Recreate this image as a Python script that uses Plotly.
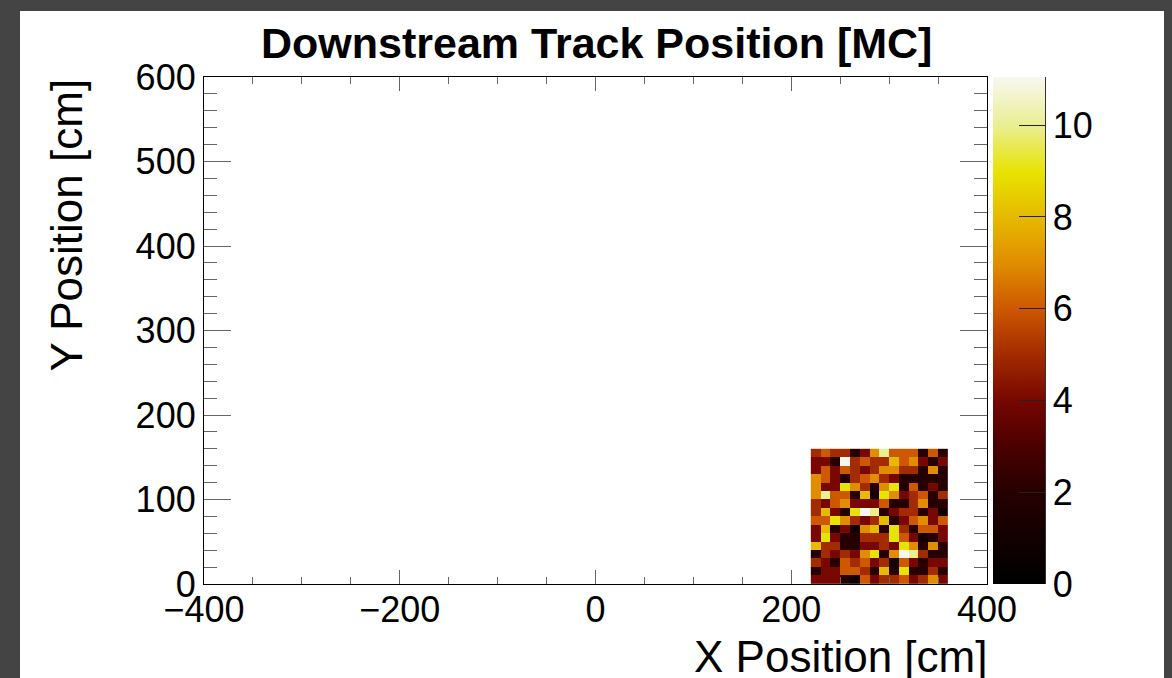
import plotly.graph_objects as go

# ---------------- data ----------------
x_edges = [220, 230, 240, 250, 260, 270, 280, 290, 300, 310, 320, 330, 340, 350, 360]
y_edges = [0, 10, 20, 30, 40, 50, 60, 70, 80, 90, 100, 110, 120, 130, 140, 150, 160]

# bin contents, listed from the TOP row (y 150-160) down to the bottom row (y 0-10)
counts_top_down = [
    [5, 6, 5, 5, 2, 4, 7, 10, 6, 6, 6, 2, 6, 2],
    [4, 4, 2, 11, 5, 6, 5, 5, 8, 6, 7, 4, 2, 4],
    [4, 6, 4, 6, 5, 4, 5, 7, 7, 5, 5, 2, 7, 2],
    [7, 6, 4, 2, 5, 6, 7, 5, 4, 2, 2, 2, 2, 2],
    [7, 4, 4, 9, 7, 5, 2, 7, 9, 2, 6, 2, 4, 2],
    [7, 10, 6, 6, 2, 8, 1, 9, 7, 4, 5, 6, 2, 5],
    [5, 4, 6, 7, 4, 4, 4, 6, 2, 2, 5, 7, 2, 2],
    [5, 8, 4, 2, 9, 11, 10, 2, 4, 5, 5, 2, 4, 1],
    [6, 6, 9, 7, 5, 4, 5, 8, 2, 4, 6, 7, 4, 6],
    [4, 8, 2, 4, 1, 7, 8, 2, 9, 5, 2, 6, 6, 4],
    [4, 9, 4, 2, 2, 5, 5, 5, 9, 6, 4, 1, 2, 4],
    [8, 5, 5, 2, 2, 4, 4, 5, 4, 9, 7, 2, 7, 2],
    [2, 5, 4, 5, 4, 7, 9, 2, 7, 11, 10, 5, 2, 2],
    [5, 4, 2, 6, 5, 6, 4, 5, 1, 6, 4, 2, 4, 4],
    [2, 4, 4, 6, 6, 5, 2, 8, 2, 9, 2, 2, 5, 2],
    [4, 4, 4, 2, 1, 6, 4, 5, 5, 6, 4, 5, 7, 4],
]
z_min, z_max = 0, 11.05

x_ticks = [-400, -200, 0, 200, 400]
y_ticks = [0, 100, 200, 300, 400, 500, 600]
cbar_ticks = [0, 2, 4, 6, 8, 10]

title_text = "Downstream Track Position [MC]"
x_title = "X Position [cm]"
y_title = "Y Position [cm]"

# ---------------- figure ----------------
W, H = 1172, 678
L, R, T, B = 204, 185, 77, 94
PW, PH = W - L - R, H - T - B

def px_x(p):
    return (p - L) / PW

def px_y(p):
    return (H - B - p) / PH

colorscale = [
    [0.00, "#000000"],
    [0.09, "#120000"],
    [0.18, "#260000"],
    [0.27, "#4a0000"],
    [0.36, "#760600"],
    [0.45, "#a22a00"],
    [0.54, "#cc5600"],
    [0.63, "#e08c00"],
    [0.72, "#e6b800"],
    [0.81, "#e8e200"],
    [0.90, "#eaee8c"],
    [1.00, "#f8f8f2"],
]

font_family = "Liberation Sans, Arial, sans-serif"

fig = go.Figure()
fig.add_trace(go.Heatmap(
    x=x_edges,
    y=y_edges,
    z=counts_top_down[::-1],
    zmin=z_min,
    zmax=z_max,
    colorscale=colorscale,
    xgap=0, ygap=0,
    colorbar=dict(
        x=px_x(993), xanchor="left", xpad=0,
        y=0, yanchor="bottom", ypad=0,
        len=1, lenmode="fraction",
        thickness=52, thicknessmode="pixels",
        outlinewidth=0,
        tickmode="array", tickvals=cbar_ticks,
        ticks="inside", ticklen=26, tickcolor="#222", tickwidth=1,
        tickfont=dict(family=font_family, size=36, color="black"),
    ),
))

axis_common = dict(
    showgrid=False, zeroline=False,
    showline=True, linecolor="black", linewidth=1.2,
    mirror="allticks", ticks="inside",
    tickcolor="#666", tickwidth=1,
    tickfont=dict(family=font_family, size=36, color="black"),
)

fig.update_xaxes(
    range=[-400, 400], tickmode="array", tickvals=x_ticks,
    ticklen=14, ticklabelstandoff=-6,
    minor=dict(dtick=50, tick0=0, ticks="inside", ticklen=7, tickcolor="#666", tickwidth=1),
    **axis_common,
)
fig.update_yaxes(
    range=[0, 600], tickmode="array", tickvals=y_ticks,
    ticklen=27,
    minor=dict(dtick=20, tick0=0, ticks="inside", ticklen=13, tickcolor="#666", tickwidth=1),
    **axis_common,
)

fig.add_shape(type="rect", xref="paper", yref="paper",
              x0=px_x(20), x1=px_x(1164), y0=px_y(700), y1=px_y(11),
              fillcolor="white", line=dict(width=0), layer="below")
fig.add_shape(type="line", xref="paper", yref="paper",
              x0=px_x(1045.5), x1=px_x(1045.5), y0=0, y1=1,
              line=dict(color="#333", width=1))

fig.add_annotation(text="<b>" + title_text + "</b>", xref="paper", yref="paper",
                   x=px_x(596), y=px_y(43), xanchor="center", yanchor="middle",
                   showarrow=False, font=dict(family=font_family, size=43, color="black"))
fig.add_annotation(text=x_title, xref="paper", yref="paper",
                   x=px_x(989), y=px_y(656), xanchor="right", yanchor="middle",
                   showarrow=False, font=dict(family=font_family, size=44, color="black"))
fig.add_annotation(text=y_title, xref="paper", yref="paper", textangle=-90,
                   x=px_x(66), y=1.0, xanchor="center", yanchor="top",
                   showarrow=False, font=dict(family=font_family, size=44, color="black"))

fig.update_layout(
    width=W, height=H, autosize=False,
    margin=dict(l=L, r=R, t=T, b=B, pad=0),
    paper_bgcolor="#444444",
    plot_bgcolor="white",
    showlegend=False,
)

fig.write_html("out.html")
